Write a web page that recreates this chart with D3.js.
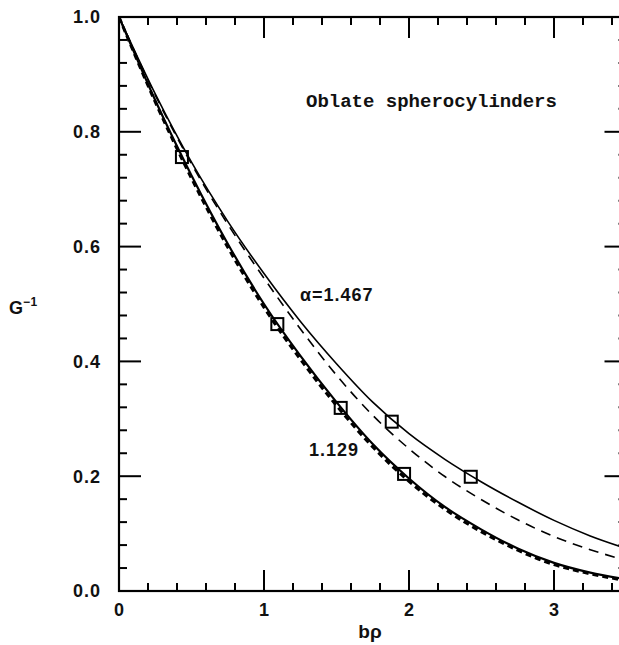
<!DOCTYPE html>
<html><head><meta charset="utf-8">
<script src="https://cdn.jsdelivr.net/npm/d3@7"></script>
<style>body{margin:0;background:#fff}svg{display:block}</style>
</head><body>
<svg id="c" width="619" height="645"></svg>
<script>
// ---- data ----
const xGrid = [0, 0.25, 0.5, 0.75, 1.0, 1.25, 1.5, 1.75, 2.0, 2.25, 2.5, 2.75, 3.0, 3.25, 3.5];
const upperSolid  = [1.0, 0.866, 0.747, 0.644, 0.553, 0.470, 0.396, 0.329, 0.274, 0.229, 0.190, 0.155, 0.123, 0.096, 0.074]; // alpha = 1.467
const upperDashed = [1.0, 0.864, 0.744, 0.639, 0.545, 0.457, 0.376, 0.306, 0.248, 0.199, 0.159, 0.124, 0.095, 0.072, 0.053];
const lowerSolid  = [1.0, 0.855, 0.724, 0.605, 0.500, 0.410, 0.329, 0.256, 0.196, 0.146, 0.107, 0.074, 0.049, 0.032, 0.020]; // alpha = 1.129
const lowerDashed = [1.0, 0.852, 0.719, 0.599, 0.494, 0.404, 0.323, 0.251, 0.191, 0.142, 0.103, 0.071, 0.046, 0.030, 0.018];
const squaresX = [0.434, 1.092, 1.529, 1.881, 1.966, 2.426];
const squaresY = [0.756, 0.465, 0.319, 0.295, 0.204, 0.199];
const xMajor = [0, 1, 2, 3];
const yMajor = [0.0, 0.2, 0.4, 0.6, 0.8, 1.0];
const yTickLabels = ["0.0", "0.2", "0.4", "0.6", "0.8", "1.0"];
const xTickLabels = ["0", "1", "2", "3"];

const svg = d3.select("#c");
const x = d3.scaleLinear().domain([0, 3.5]).range([119, 626.5]);
const y = d3.scaleLinear().domain([0, 1]).range([591, 17]);

const defs = svg.append("defs");
defs.append("clipPath").attr("id","clip").append("rect")
  .attr("x", x(0)).attr("y", y(1)).attr("width", x(3.5)-x(0)).attr("height", y(0)-y(1));

// frame
svg.append("rect").attr("x", x(0)).attr("y", y(1)).attr("width", x(3.5)-x(0)).attr("height", y(0)-y(1))
  .attr("fill","none").attr("stroke","#000").attr("stroke-width",2.2);

// ticks
const xMinor = d3.range(0, 3.5001, 0.2).filter(v => Math.abs(v - Math.round(v)) > 1e-6);
const yMinor = d3.range(0, 1.0001, 0.04).filter(v => Math.abs(v*5 - Math.round(v*5)) > 1e-6);
const tk = svg.append("g").attr("stroke","#000").attr("stroke-width",2);
function xt(vals, len){
  vals.forEach(v=>{
    tk.append("line").attr("x1",x(v)).attr("x2",x(v)).attr("y1",y(0)).attr("y2",y(0)-len);
    tk.append("line").attr("x1",x(v)).attr("x2",x(v)).attr("y1",y(1)).attr("y2",y(1)+len);
  });
}
function yt(vals, len){
  vals.forEach(v=>{
    tk.append("line").attr("y1",y(v)).attr("y2",y(v)).attr("x1",x(0)).attr("x2",x(0)+len);
    tk.append("line").attr("y1",y(v)).attr("y2",y(v)).attr("x1",x(3.5)).attr("x2",x(3.5)-len);
  });
}
xt(xMajor, 21); xt(xMinor, 8); yt(yMajor, 22); yt(yMinor, 8);

// tick labels
const lab = svg.append("g").attr("font-family","'Liberation Sans', Arial, sans-serif")
  .attr("font-weight","bold").attr("font-size",18).attr("fill","#111");
yMajor.forEach((v,i)=>{
  lab.append("text").attr("x",101).attr("y",y(v)).attr("dy","0.36em")
    .attr("text-anchor","end").attr("letter-spacing",1).text(yTickLabels[i]);
});
xMajor.forEach((v,i)=>{
  lab.append("text").attr("x",x(v)).attr("y",616).attr("text-anchor","middle").text(xTickLabels[i]);
});

// axis titles
const g1 = lab.append("text").attr("x",9).attr("y",314);
g1.append("tspan").text("G");
g1.append("tspan").attr("dy",-8).attr("font-size",12).attr("letter-spacing",0.5).text("−1");
lab.append("text").attr("x",370).attr("y",638).attr("text-anchor","middle").attr("font-size",19).text("bρ");

// curves
const plot = svg.append("g").attr("clip-path","url(#clip)").attr("fill","none").attr("stroke","#000");
const line = d3.line().x(d=>x(d[0])).y(d=>y(d[1])).curve(d3.curveMonotoneX);
const mk = arr => xGrid.map((v,i)=>[v, arr[i]]);
plot.append("path").attr("d", line(mk(upperSolid))).attr("stroke-width",1.6);
plot.append("path").attr("d", line(mk(upperDashed))).attr("stroke-width",1.6).attr("stroke-dasharray","10,7");
plot.append("path").attr("d", line(mk(lowerDashed))).attr("stroke-width",3).attr("stroke-dasharray","6,4");
plot.append("path").attr("d", line(mk(lowerSolid))).attr("stroke-width",2.2);

// squares
const sq = 12;
squaresX.forEach((v,i)=>{
  svg.append("rect").attr("x",x(v)-sq/2).attr("y",y(squaresY[i])-sq/2).attr("width",sq).attr("height",sq)
    .attr("fill","none").attr("stroke","#000").attr("stroke-width",2);
});

// annotations
svg.append("text").attr("x",306).attr("y",107).attr("font-family","'Liberation Mono', 'Courier New', monospace")
  .attr("font-weight","bold").attr("font-size",19).attr("fill","#111").text("Oblate spherocylinders");
lab.append("text").attr("x",300).attr("y",301).attr("font-size",18).attr("letter-spacing",1).text("α=1.467");
lab.append("text").attr("x",309).attr("y",456).attr("font-size",18).attr("letter-spacing",1).text("1.129");
</script>
</body></html>
